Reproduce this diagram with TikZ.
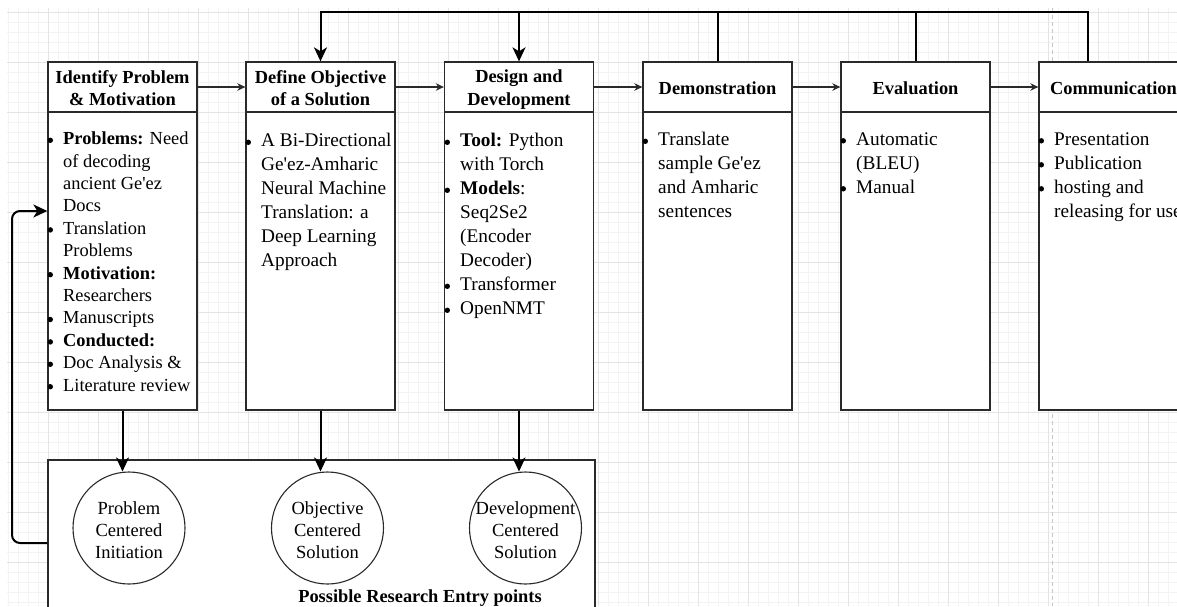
\documentclass[tikz,border=0pt]{standalone}
\usepackage{fontspec}
\setmainfont{Liberation Serif}
\usetikzlibrary{arrows.meta,calc}

% type sizes
\newcommand{\bodyA}{\fontsize{18.4pt}{22.4pt}\selectfont}
\newcommand{\bodyB}{\fontsize{19.3pt}{24pt}\selectfont}
\newcommand{\headf}{\fontsize{18.4pt}{22pt}\selectfont\bfseries}
\newcommand{\circf}{\fontsize{18.5pt}{22pt}\selectfont}
% round bullet hung into the left margin of a line
\newcommand{\bul}{\llap{\tikz[baseline=-4.4pt]\fill[black] (0,0) circle (2.7pt);\hspace{10.2pt}}}
% fixed height for the first line of a list
\newcommand{\fst}{\rule{0pt}{15pt}}
% equal line height and depth for centred labels
\newcommand{\hs}{\rule[-3pt]{0pt}{21pt}}
\newcommand{\ap}{\textquotesingle}

\definecolor{boxc}{HTML}{2A2A2A}
\definecolor{gridminor}{HTML}{F3F3F3}
\definecolor{gridmajor}{HTML}{E4E4E4}

\tikzset{
  x=1pt, y=-1pt,
  box/.style={draw=boxc, line width=1.3pt, fill=white, minimum width=149pt, inner sep=0pt},
  head/.style={box, minimum height=50pt, font=\headf, align=center},
  body/.style={box, minimum height=298pt},
  btext/.style={anchor=north west, inner sep=0pt, align=left},
  flow/.style={draw=boxc, line width=1.3pt, -{Stealth[length=8pt,width=7.5pt,inset=2.5pt]}},
  fb/.style={draw=black, line width=2pt},
  fbarrow/.style={fb, -{Stealth[length=14pt,width=13pt,inset=4pt]}},
  entry/.style={circle, draw=boxc, line width=1.1pt, fill=white, minimum size=112pt, inner sep=0pt},
  ctext/.style={font=\circf, align=center, inner sep=0pt},
}

\begin{document}
\begin{tikzpicture}
\useasboundingbox (0,0) rectangle (1177,606);
\clip (0,0) rectangle (1177,606);
\fill[white] (0,0) rectangle (1177,606);

% background grid
\foreach \x in {8,18,...,1177} \draw[gridminor, line width=0.8pt] (\x,8) -- (\x,606);
\foreach \y in {12,22,...,606} \draw[gridminor, line width=0.8pt] (7,\y) -- (1177,\y);
\foreach \x in {48,98,...,1177} \draw[gridmajor, line width=0.9pt] (\x,8) -- (\x,606);
\foreach \y in {12,62,...,606} \draw[gridmajor, line width=0.9pt] (7,\y) -- (1177,\y);
% page break marker
\draw[gray!45, line width=0.8pt, dash pattern=on 4pt off 3pt] (1052,8) -- (1052,606);

% stage headers
\node[head] (h1) at (122.5,87) {\hs Identify Problem\\\hs\& Motivation};
\node[head] (h2) at (320.5,87) {\hs Define Objective\\\hs of a Solution};
\node[head] (h3) at (519,87) {\hs Design and\\\hs Development};
\node[head] (h4) at (717.5,87) {\hs Demonstration};
\node[head] (h5) at (915.5,87) {\hs Evaluation};
\node[head] (h6) at (1113.5,87) {\hs Communication};

% stage bodies
\node[body] (b1) at (122.5,261) {};
\node[body] (b2) at (320.5,261) {};
\node[body] (b3) at (519,261) {};
\node[body] (b4) at (717.5,261) {};
\node[body] (b5) at (915.5,261) {};
\node[body] (b6) at (1113.5,261) {};

% body texts
\node[btext, font=\bodyA] (t1) at (63,129.5) {\bul\fst\textbf{Problems:} Need\\of decoding\\ancient Ge\ap ez\\Docs\\\bul Translation\\Problems\\\bul\textbf{Motivation:}\\Researchers\\\bul Manuscripts\\\bul\textbf{Conducted:}\\\bul Doc Analysis \&\\\bul Literature review};
\node[btext, font=\bodyB] (t2) at (261,131.5) {\bul\fst A Bi-Directional\\Ge\ap ez-Amharic\\Neural Machine\\Translation: a\\Deep Learning\\Approach};
\node[btext, font=\bodyB] (t3) at (460,131.5) {\bul\fst\textbf{Tool:} Python\\with Torch\\\bul\textbf{Models}:\\Seq2Se2\\(Encoder\\Decoder)\\\bul Transformer\\\bul OpenNMT};
\node[btext, font=\bodyB] (t4) at (658,130.5) {\bul\fst Translate\\sample Ge\ap ez\\and Amharic\\sentences};
\node[btext, font=\bodyB] (t5) at (856,130) {\bul\fst Automatic\\(BLEU)\\\bul Manual};
\node[btext, font=\bodyB] (t6) at (1054,130) {\bul\fst Presentation\\\bul Publication\\\bul hosting and\\releasing for use};

% flow between stages
\draw[flow] (h1.east) -- (h2.west);
\draw[flow] (h2.east) -- (h3.west);
\draw[flow] (h3.east) -- (h4.west);
\draw[flow] (h4.east) -- (h5.west);
\draw[flow] (h5.east) -- (h6.west);

% iteration loop across the top
\coordinate (top) at (0,12);
\coordinate (d6) at ($(h6.north west)!0.33!(h6.north east)$);
\draw[fbarrow] (d6) -- (d6 |- top) -| (h2.north);
\draw[fb] (h4.north) -- (h4.north |- top);
\draw[fb] (h5.north) -- (h5.north |- top);
\draw[fbarrow] (h3.north |- top) -- (h3.north);

% research entry points
\node[draw=boxc, line width=1.3pt, fill=white, minimum width=547pt, minimum height=166pt, inner sep=0pt] (er) at (321.5,543) {};
\node[entry] (c1) at (129,528) {};
\node[entry] (c2) at (327.5,528) {};
\node[entry] (c3) at (525.5,528) {};
\node[ctext] (c1t) at ($(c1)+(0,1)$) {\hs Problem\\\hs Centered\\\hs Initiation};
\node[ctext] (c2t) at ($(c2)+(0,1)$) {\hs Objective\\\hs Centered\\\hs Solution};
\node[ctext] (c3t) at ($(c3)+(0,1)$) {\hs Development\\\hs Centered\\\hs Solution};
\node[font=\headf, inner sep=0pt] (erl) at (420,598) {Possible Research Entry points};

\draw[fbarrow] (b1.south) -- (b1.south |- c1.north);
\draw[fbarrow] (b2.south) -- (b2.south |- c2.north);
\draw[fbarrow] (b3.south) -- (b3.south |- c3.north);

% loop back from the entry points to the first stage
\coordinate (lp) at (12,211);
\draw[fbarrow, rounded corners=8pt] (er.west) -| (lp) -- (lp -| b1.west);
\end{tikzpicture}
\end{document}
